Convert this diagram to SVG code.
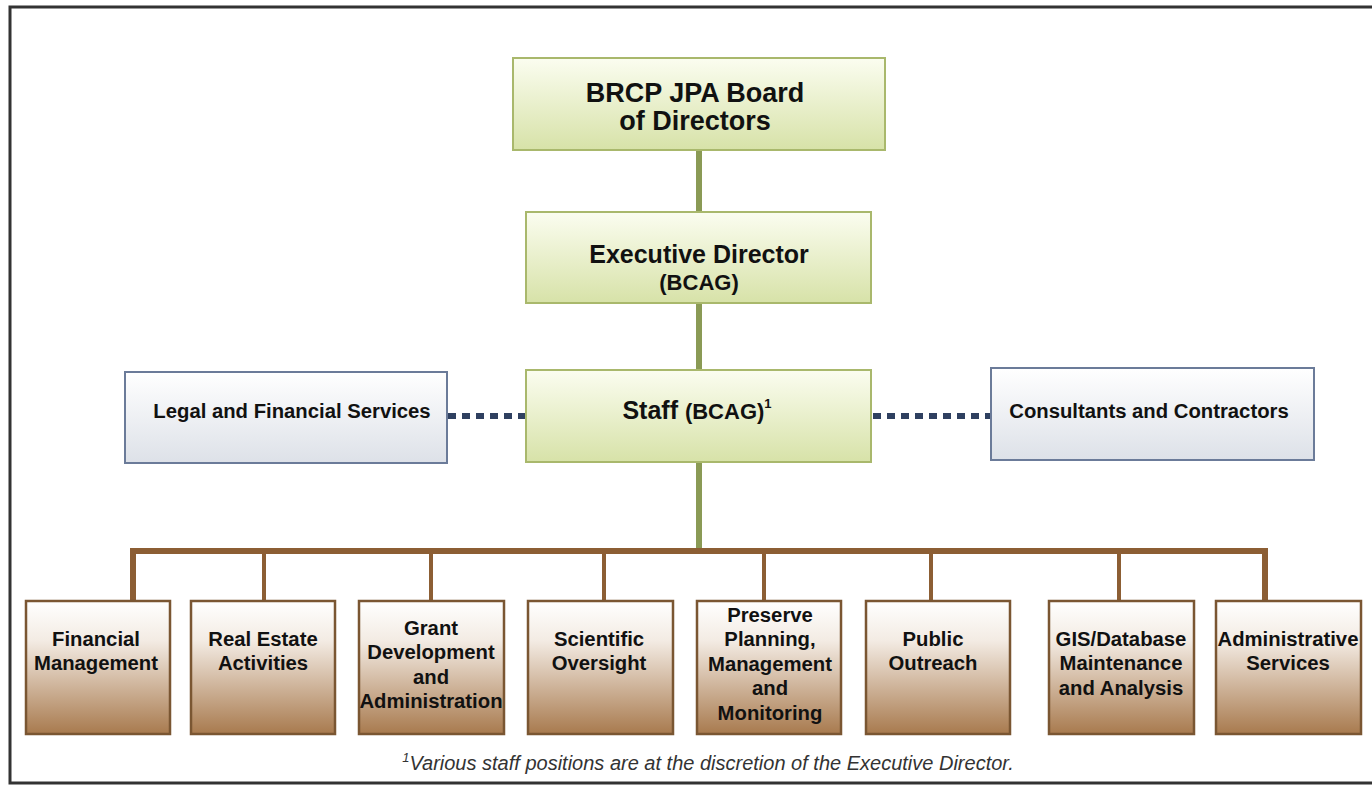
<svg xmlns="http://www.w3.org/2000/svg" width="1372" height="786" viewBox="0 0 1372 786">
<defs>
<linearGradient id="gGreen" x1="0" y1="0" x2="0" y2="1">
<stop offset="0" stop-color="#fbfdf0"/>
<stop offset="1" stop-color="#d7e2a8"/>
</linearGradient>
<linearGradient id="gBlue" x1="0" y1="0" x2="0" y2="1">
<stop offset="0" stop-color="#ffffff"/>
<stop offset="1" stop-color="#dde1e8"/>
</linearGradient>
<linearGradient id="gBrown" x1="0" y1="0" x2="0" y2="1">
<stop offset="0" stop-color="#ffffff"/>
<stop offset="0.3" stop-color="#f3ebe3"/>
<stop offset="1" stop-color="#a87a4e"/>
</linearGradient>
</defs>
<style>
.green{fill:url(#gGreen);stroke:#a9b86c;stroke-width:2}
.blue{fill:url(#gBlue);stroke:#6b7b99;stroke-width:2}
.brown{fill:url(#gBrown);stroke:#7a5632;stroke-width:2.5}
text{font-family:"Liberation Sans",Arial,sans-serif;font-weight:bold;fill:#111;text-anchor:middle}
.big{font-size:27px}
.med{font-size:25px}
.sm{font-size:22px}
.side{font-size:20.3px}
.bt{font-size:20.3px}
.note{font-size:20px;font-style:italic;font-weight:normal;fill:#333}
.gl{stroke:#8a9a55;stroke-width:6;fill:none}
.bl{stroke:#8c5e34;stroke-width:6;fill:none}
.bd{stroke:#8c5e34;stroke-width:4;fill:none}
.dot{stroke:#2f4060;stroke-width:6;stroke-dasharray:8 6;fill:none}
</style>
<rect x="0" y="0" width="1372" height="786" fill="#ffffff"/>
<rect x="10" y="7" width="1375" height="776" fill="none" stroke="#333" stroke-width="3"/>
<g id="connectors">
<line class="gl" x1="699" y1="150" x2="699" y2="212"/>
<line class="gl" x1="699" y1="303" x2="699" y2="370"/>
<line class="gl" x1="699" y1="462" x2="699" y2="549"/>
<line class="dot" x1="448" y1="416" x2="526" y2="416"/>
<line class="dot" x1="873" y1="416" x2="991" y2="416"/>
<polyline class="bl" points="133,601 133,551 1265,551 1265,601"/>
<line class="bd" x1="264" y1="551" x2="264" y2="601"/>
<line class="bd" x1="431" y1="551" x2="431" y2="601"/>
<line class="bd" x1="604" y1="551" x2="604" y2="601"/>
<line class="bd" x1="764" y1="551" x2="764" y2="601"/>
<line class="bd" x1="931" y1="551" x2="931" y2="601"/>
<line class="bd" x1="1119" y1="551" x2="1119" y2="601"/>
</g>
<g id="board">
<rect class="green" x="513" y="58" width="372" height="92"/>
<text class="big" x="695" y="102">BRCP JPA Board</text>
<text class="big" x="695" y="130">of Directors</text>
</g>
<g id="executive">
<rect class="green" x="526" y="212" width="345" height="91"/>
<text class="med" x="699" y="263">Executive Director</text>
<text class="sm" x="699" y="290">(BCAG)</text>
</g>
<g id="staff">
<rect class="green" x="526" y="370" width="345" height="92"/>
<text x="697" y="419"><tspan class="med">Staff </tspan><tspan class="sm">(BCAG)</tspan><tspan font-size="13" dy="-11">1</tspan></text>
</g>
<g id="legal">
<rect class="blue" x="125" y="372" width="322" height="91"/>
<text class="side" x="292" y="418">Legal and Financial Services</text>
</g>
<g id="consultants">
<rect class="blue" x="991" y="368" width="323" height="92"/>
<text class="side" x="1149" y="418">Consultants and Contractors</text>
</g>
<g id="financial">
<rect class="brown" x="26" y="601" width="144" height="133"/>
<text class="bt" x="96" y="646">Financial</text>
<text class="bt" x="96" y="670">Management</text>
</g>
<g id="realestate">
<rect class="brown" x="191" y="601" width="144" height="133"/>
<text class="bt" x="263" y="646">Real Estate</text>
<text class="bt" x="263" y="670">Activities</text>
</g>
<g id="grant">
<rect class="brown" x="359" y="601" width="145" height="133"/>
<text class="bt" x="431" y="635">Grant</text>
<text class="bt" x="431" y="659">Development</text>
<text class="bt" x="431" y="684">and</text>
<text class="bt" x="431" y="708">Administration</text>
</g>
<g id="scientific">
<rect class="brown" x="528" y="601" width="145" height="133"/>
<text class="bt" x="599" y="646">Scientific</text>
<text class="bt" x="599" y="670">Oversight</text>
</g>
<g id="preserve">
<rect class="brown" x="697" y="601" width="144" height="133"/>
<text class="bt" x="770" y="622">Preserve</text>
<text class="bt" x="770" y="646">Planning,</text>
<text class="bt" x="770" y="671">Management</text>
<text class="bt" x="770" y="695">and</text>
<text class="bt" x="770" y="720">Monitoring</text>
</g>
<g id="outreach">
<rect class="brown" x="866" y="601" width="144" height="133"/>
<text class="bt" x="933" y="646">Public</text>
<text class="bt" x="933" y="670">Outreach</text>
</g>
<g id="gis">
<rect class="brown" x="1049" y="601" width="145" height="133"/>
<text class="bt" x="1121" y="646">GIS/Database</text>
<text class="bt" x="1121" y="670">Maintenance</text>
<text class="bt" x="1121" y="695">and Analysis</text>
</g>
<g id="admin">
<rect class="brown" x="1216" y="601" width="145" height="133"/>
<text class="bt" x="1288" y="646">Administrative</text>
<text class="bt" x="1288" y="670">Services</text>
</g>
<text class="note" x="708" y="770"><tspan font-size="13" dy="-8">1</tspan><tspan dy="8">Various staff positions are at the discretion of the Executive Director.</tspan></text>
</svg>
